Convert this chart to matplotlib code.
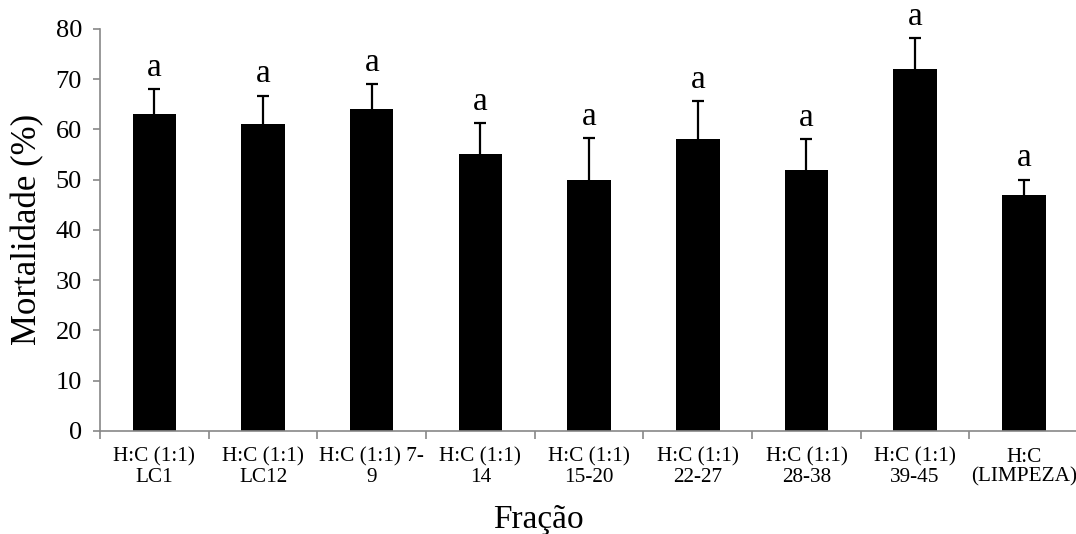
import numpy as np
import matplotlib
matplotlib.use("Agg")
import matplotlib.pyplot as plt

plt.rcParams['font.family'] = ['Liberation Serif', 'DejaVu Serif']

fractions = ["H:C (1:1)\nLC1", "H:C (1:1)\nLC12", "H:C (1:1) 7-\n9", "H:C (1:1)\n14",
             "H:C (1:1)\n15-20", "H:C (1:1)\n22-27", "H:C (1:1)\n28-38",
             "H:C (1:1)\n39-45", "H:C\n(LIMPEZA)"]
mortality = [63, 61, 64, 55, 50, 58, 52, 72, 47]
errors = [5, 5.7, 5, 6.2, 8.3, 7.7, 6, 6.2, 3]
letters = ["a"] * 9

fig = plt.figure(figsize=(10.76, 5.34), dpi=100)
ax = fig.add_axes([0.093, 0.193, 0.909, 0.753])

x = np.arange(len(mortality))
ax.bar(x, mortality, width=0.4, color='black', zorder=2)
# errorbar behind the bars so only the upper half shows
ax.errorbar(x, mortality, yerr=errors, fmt='none',
            ecolor='black', elinewidth=1.6, capsize=4.5, capthick=1.6, zorder=1)

for xi, m, e, lt in zip(x, mortality, errors, letters):
    ax.annotate(lt, (xi, m + e), xytext=(0, 9.5), textcoords='offset points',
                ha='center', va='baseline', fontsize=24)

ax.set_xlim(-0.5, 8.5)
ax.set_ylim(0, 80)
ax.set_yticks(range(0, 81, 10))
ax.tick_params(axis='y', labelsize=19, direction='out', length=5, width=1.2,
               color='#888888', pad=8)

ax.set_xticks(x)
ax.set_xticklabels(fractions, fontsize=15.3, linespacing=1.05)
ax.tick_params(axis='x', which='major', length=0, pad=12)
ax.set_xticks(np.arange(-0.5, 9, 1), minor=True)
ax.tick_params(axis='x', which='minor', direction='out', length=6, width=1.2,
               color='#888888')

for s in ['top', 'right']:
    ax.spines[s].set_visible(False)
for s in ['left', 'bottom']:
    ax.spines[s].set_color('#888888')
    ax.spines[s].set_linewidth(1.2)

ax.set_ylabel("Mortalidade (%)", fontsize=25, labelpad=8)
# x title is centred on the whole chart, not on the plot area
fig.text(0.5, 0.012, "Fração", fontsize=24, ha='center', va='baseline')

plt.savefig("out.png", dpi=100)
